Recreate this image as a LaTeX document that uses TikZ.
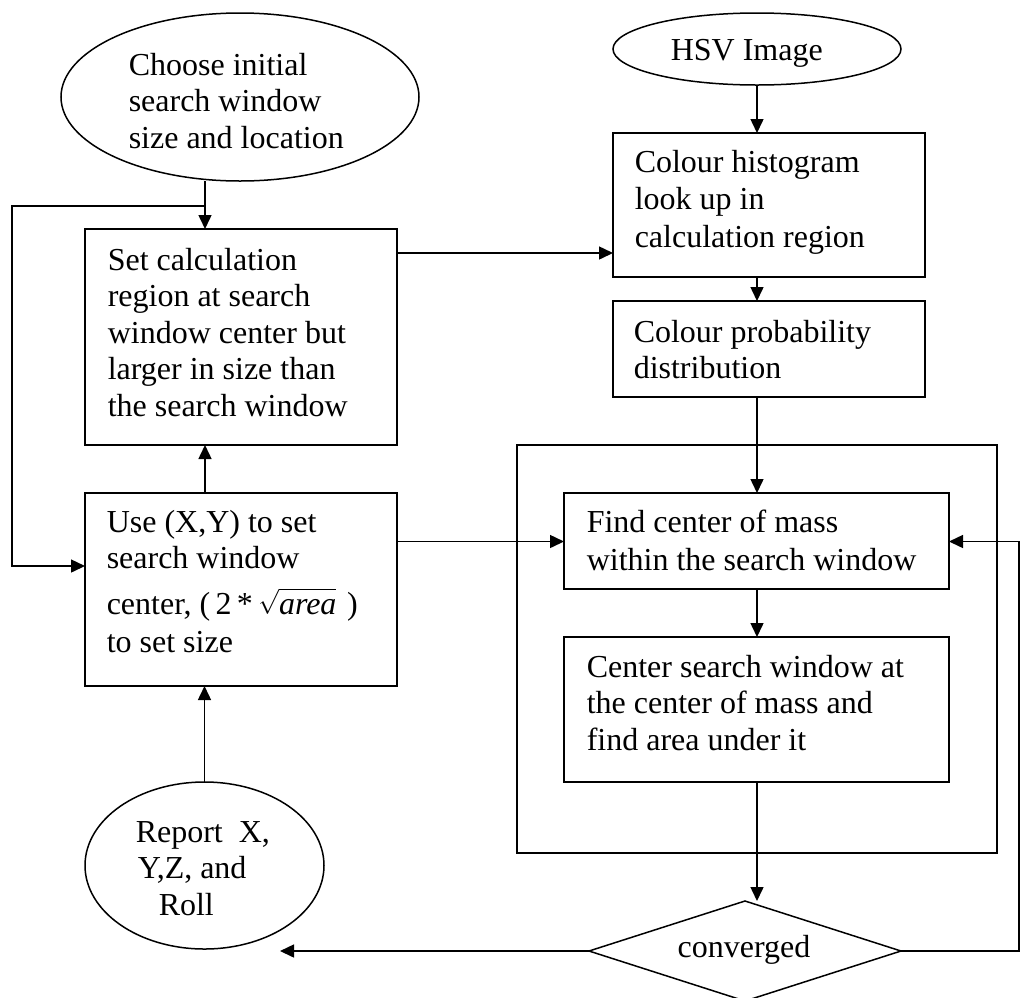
\documentclass[tikz,border=0pt]{standalone}
\usepackage{fontspec}
\setmainfont{Liberation Serif}
\usetikzlibrary{shapes.geometric,arrows.meta}
\begin{document}
\begin{tikzpicture}[x=1pt,y=-1pt,
  line width=1.5pt,
  shapebox/.style={draw, rectangle, inner sep=0pt, outer sep=0pt},
  oval/.style={draw, ellipse, inner sep=0pt, outer sep=0pt},
  decision/.style={draw, diamond, inner sep=0pt, outer sep=0pt},
  txt/.style={anchor=base west, inner sep=0pt, font=\fontsize{32}{36.5}\selectfont},
  arr/.style={-{Triangle[length=14pt,width=13pt]}},
]
\useasboundingbox (0,0) rectangle (1020,997);

% shapes
\node[oval, minimum width=358pt, minimum height=168pt] (choose) at (240,97) {};
\node[oval, minimum width=288pt, minimum height=72pt] (hsv) at (757,49) {};
\node[shapebox, minimum width=312pt, minimum height=216pt] (setcalc) at (241,337) {};
\node[shapebox, minimum width=312pt, minimum height=193pt] (use) at (241,589.5) {};
\node[shapebox, minimum width=312pt, minimum height=144pt] (hist) at (769,205) {};
\node[shapebox, minimum width=312pt, minimum height=96pt] (prob) at (769,349) {};
\node[shapebox, minimum width=480pt, minimum height=408pt] (loopbox) at (757,649) {};
\node[shapebox, minimum width=385pt, minimum height=96pt] (find) at (756.5,541) {};
\node[shapebox, minimum width=385pt, minimum height=145pt] (cen) at (756.5,709.5) {};
\node[oval, minimum width=239pt, minimum height=167pt] (report) at (204.5,865.5) {};
\node[decision, minimum width=312pt, minimum height=100pt] (conv) at (745,951) {};

% texts
\node[txt] (tchoose) at (128,75) {\vtop{\hbox{Choose initial}\hbox{search window}\hbox{size and location}}};
\node[txt] (thsv) at (670,60) {HSV Image};
\node[txt] (tset) at (107,270) {\vtop{\hbox{Set calculation}\hbox{region at search}\hbox{window center but}\hbox{larger in size than}\hbox{the search window}}};
\node[txt] (tuse) at (106,532) {\vtop{\hbox{Use (X,Y) to set}\hbox{search window}\kern9pt\hbox{center, (\,2\,*\,$\sqrt{\rule{0pt}{23pt}\textit{area}}$\,\,)}\kern2pt\hbox{to set size}}};
\node[txt] (thist) at (634,172) {\vtop{\baselineskip=37.5pt\hbox{Colour histogram}\hbox{look up in}\hbox{calculation region}}};
\node[txt] (tprob) at (633,342) {\vtop{\hbox{Colour probability}\hbox{distribution}}};
\node[txt] (tfind) at (586,532) {\vtop{\baselineskip=38pt\hbox{Find center of mass}\hbox{within the search window}}};
\node[txt] (tcen) at (586,677) {\vtop{\hbox{Center search window at}\hbox{the center of mass and}\hbox{find area under it}}};
\node[txt] (treport) at (135,842) {\vtop{\hbox{Report\ \ X,}\hbox{\kern2pt Y,Z, and}\hbox{\kern23pt Roll}}};
\node[txt, anchor=base] (tconv) at (744,957) {converged};

% helper coordinates for connector columns and rows
\coordinate (colL) at (205,0);
\coordinate (colR) at (757,0);
\coordinate (rowTop) at (0,253);
\coordinate (rowMid) at (0,541.5);
\coordinate (loopNW) at (12,206);
\coordinate (loopSW) at (12,566);
\coordinate (loopJoin) at (205,206);
\coordinate (backNE) at (1019,951);
\coordinate (backE) at (1019,541.5);
\coordinate (outEnd) at (280,951);

% connectors
\draw[arr] (choose.south -| colL) -- (setcalc.north -| colL);
\draw[arr] (loopJoin) -- (loopNW) -- (loopSW) -- (use.west |- loopSW);
\draw[arr] (use.north -| colL) -- (setcalc.south -| colL);
\draw[arr] (report.north) -- (use.south -| report.north);
\draw[arr] (setcalc.east |- rowTop) -- (hist.west |- rowTop);
\draw[arr] (hsv.south) -- (hist.north -| hsv.south);
\draw[arr] (hist.south -| colR) -- (prob.north -| colR);
\draw[arr] (prob.south -| colR) -- (find.north -| colR);
\draw[arr] (find.south -| colR) -- (cen.north -| colR);
\draw[arr] (cen.south -| colR) -- (conv.north -| colR);
\draw[arr] (use.east |- rowMid) -- (find.west |- rowMid);
\draw[arr] (conv.east) -- (backNE) -- (backE) -- (find.east |- rowMid);
\draw[arr] (conv.west) -- (outEnd);
\end{tikzpicture}
\end{document}
